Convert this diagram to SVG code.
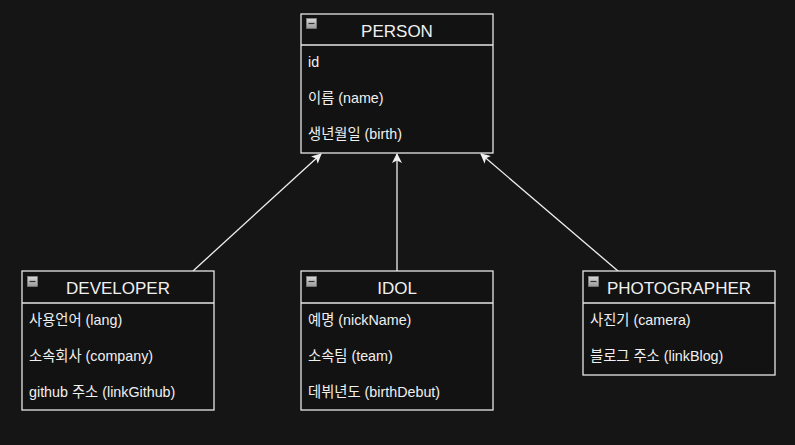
<svg xmlns="http://www.w3.org/2000/svg" width="795" height="445" viewBox="0 0 795 445">
<style>
.box{fill:#121212;stroke:#e6e6e6;stroke-width:1.3}
.sep{stroke:#e6e6e6;stroke-width:1.3}
.title{font-family:"Liberation Sans","Noto Sans CJK KR",sans-serif;font-size:17px;fill:#f0f0f0;text-anchor:middle}
.attr{font-family:"Liberation Sans","Noto Sans CJK KR",sans-serif;font-size:14.3px;fill:#f0f0f0}
.edge{stroke:#f0f0f0;stroke-width:1.3;fill:none}
.icon{fill:url(#ig);stroke:#8a8a8a;stroke-width:0.6}
</style>
<defs>
<linearGradient id="ig" x1="0" y1="0" x2="0" y2="1"><stop offset="0" stop-color="#d8d8d8"/><stop offset="1" stop-color="#9a9a9a"/></linearGradient>
<marker id="arr" viewBox="0 0 10 10" refX="9" refY="5" markerWidth="10" markerHeight="10" markerUnits="userSpaceOnUse" orient="auto">
<path d="M0,0 L10,5 L0,10 L2.5,5 Z" fill="#f0f0f0"/>
</marker>
</defs>
<rect width="795" height="445" fill="#151515"/>
<g id="connectors">
<line class="edge" x1="193" y1="271" x2="321" y2="154" marker-end="url(#arr)"/>
<line class="edge" x1="397" y1="271" x2="397" y2="154" marker-end="url(#arr)"/>
<line class="edge" x1="618" y1="271" x2="481" y2="154" marker-end="url(#arr)"/>
</g>
<g id="person">
<rect class="box" x="301" y="14" width="192" height="139"/>
<line class="sep" x1="301" y1="45" x2="493" y2="45"/>
<rect class="icon" x="306.5" y="18.5" width="10" height="10"/><line x1="308.5" y1="23.5" x2="314.5" y2="23.5" stroke="#333" stroke-width="1.2"/>
<text class="title" x="397" y="37">PERSON</text>
<text class="attr" x="308" y="67">id</text>
<text class="attr" x="308" y="103">이름 (name)</text>
<text class="attr" x="308" y="139">생년월일 (birth)</text>
</g>
<g id="developer">
<rect class="box" x="22" y="271" width="192" height="139"/>
<line class="sep" x1="22" y1="303" x2="214" y2="303"/>
<rect class="icon" x="27.5" y="276.5" width="10" height="10"/><line x1="29.5" y1="281.5" x2="35.5" y2="281.5" stroke="#333" stroke-width="1.2"/>
<text class="title" x="118" y="294">DEVELOPER</text>
<text class="attr" x="29" y="325">사용언어 (lang)</text>
<text class="attr" x="29" y="361">소속회사 (company)</text>
<text class="attr" x="29" y="397">github 주소 (linkGithub)</text>
</g>
<g id="idol">
<rect class="box" x="301" y="271" width="192" height="139"/>
<line class="sep" x1="301" y1="303" x2="493" y2="303"/>
<rect class="icon" x="306.5" y="276.5" width="10" height="10"/><line x1="308.5" y1="281.5" x2="314.5" y2="281.5" stroke="#333" stroke-width="1.2"/>
<text class="title" x="397" y="294">IDOL</text>
<text class="attr" x="308" y="325">예명 (nickName)</text>
<text class="attr" x="308" y="361">소속팀 (team)</text>
<text class="attr" x="308" y="397">데뷔년도 (birthDebut)</text>
</g>
<g id="photographer">
<rect class="box" x="583" y="271" width="192" height="104"/>
<line class="sep" x1="583" y1="303" x2="775" y2="303"/>
<rect class="icon" x="588.5" y="276.5" width="10" height="10"/><line x1="590.5" y1="281.5" x2="596.5" y2="281.5" stroke="#333" stroke-width="1.2"/>
<text class="title" x="679" y="294">PHOTOGRAPHER</text>
<text class="attr" x="590" y="325">사진기 (camera)</text>
<text class="attr" x="590" y="361">블로그 주소 (linkBlog)</text>
</g>
</svg>
